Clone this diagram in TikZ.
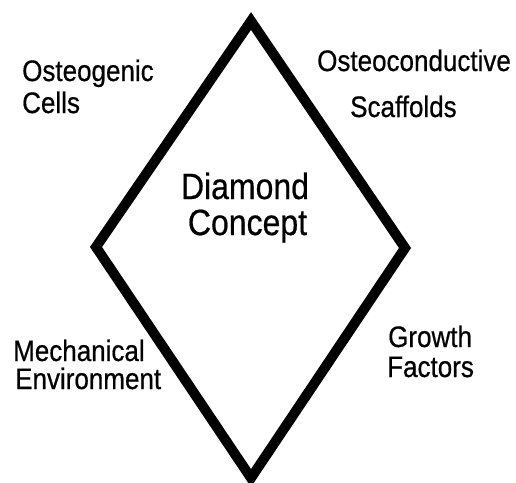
\documentclass[tikz,border=0pt]{standalone}
\usepackage{fontspec}
\setmainfont{Liberation Sans}[FakeBold=0.6]
\usepackage{graphicx}
\newcommand\stretchtxt[1]{\scalebox{1}[1.14]{#1}}
\tikzset{
  lbl/.style={anchor=base west, inner sep=0pt, font=\fontsize{26}{26}\selectfont},
  biglbl/.style={anchor=base, inner sep=0pt, font=\fontsize{32}{32}\selectfont},
  edge/.style={line width=10pt, line join=miter, black}
}
\begin{document}
\begin{tikzpicture}[x=1pt, y=-1pt]
\useasboundingbox (0,0) rectangle (516,482);
\fill[white] (0,0) rectangle (516,482);
\coordinate (top) at (251,21);
\coordinate (right) at (405,248);
\coordinate (bottom) at (251,478);
\coordinate (left) at (96,247);
\begin{scope}
\clip (0,0) rectangle (516,482);
\draw[edge] (top) -- (right) -- (bottom) -- (left) -- cycle;
\end{scope}
\node[lbl] (og1) at (22,81) {\stretchtxt{Osteogenic}};
\node[lbl] (og2) at (22,113) {\stretchtxt{Cells}};
\node[lbl] (oc1) at (317,71) {\stretchtxt{Osteoconductive}};
\node[lbl] (oc2) at (350,117) {\stretchtxt{Scaffolds}};
\node[biglbl] (dc1) at (245,199) {\stretchtxt{Diamond}};
\node[biglbl] (dc2) at (247.5,235) {\stretchtxt{Concept}};
\node[lbl] (me1) at (13,361) {\stretchtxt{Mechanical}};
\node[lbl] (me2) at (15,389) {\stretchtxt{Environment}};
\node[lbl] (gf1) at (388,347) {\stretchtxt{Growth}};
\node[lbl] (gf2) at (387,377) {\stretchtxt{Factors}};
\end{tikzpicture}
\end{document}
